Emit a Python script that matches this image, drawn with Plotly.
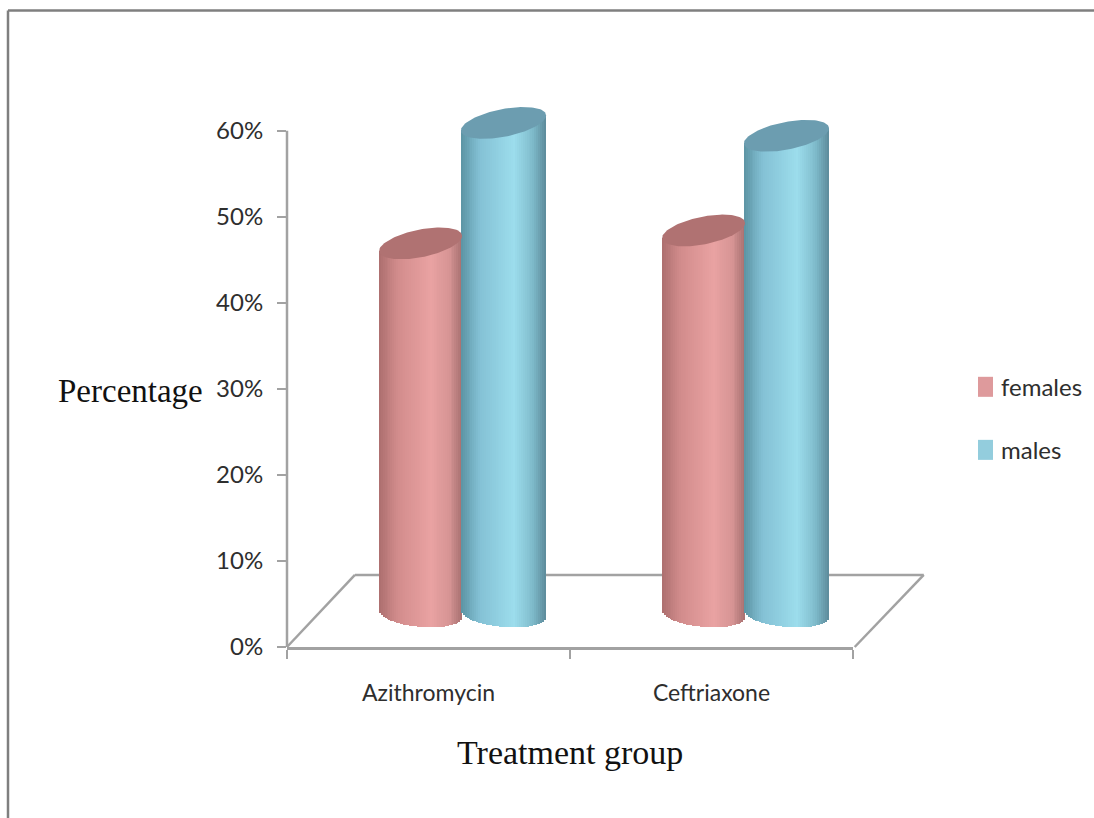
import numpy as np
import plotly.graph_objects as go

# Chart data
groups = ["Azithromycin", "Ceftriaxone"]
females = [43.0, 44.5]
males = [57.0, 55.5]
y_ticks = [0, 10, 20, 30, 40, 50, 60]

# Pseudo-3D layout of the chart, in axis units
Y_MAX, Y_HEADROOM, X_MAX = 60, 66, 2
PX_PER_X, PX_PER_PCT = 283.0, 8.6
FLOOR_DEPTH_X, FLOOR_DEPTH_Y = 0.24, 8.37
BASE_LIFT = 3.9
SLICES = 44

AXIS_GREY = "#A2A2A2"
FRAME_GREY = "#7F7F7F"
TEXT = "#2E2E2E"
SANS = "Lato, Open Sans"
SERIF = "Liberation Serif"

STYLE = {
    "females": dict(offset=0.472, width=0.293, top="#B07272", swatch="#DE9A9C",
                    stops=[(-1, (172, 110, 110)), (-0.55, (210, 140, 140)), (0.25, (233, 162, 162)),
                           (0.7, (214, 148, 148)), (1, (168, 112, 112))]),
    "males": dict(offset=0.765, width=0.301, top="#6C9DB0", swatch="#93CDDD",
                  stops=[(-1, (92, 148, 163)), (-0.55, (132, 193, 213)), (0.25, (156, 221, 236)),
                         (0.7, (126, 186, 202)), (1, (92, 138, 154))]),
}


def shade(t, stops):
    knots = [s[0] for s in stops]
    return [
        "rgb({:.0f},{:.0f},{:.0f})".format(*(np.interp(v, knots, [s[1][c] for s in stops]) for c in range(3)))
        for v in t
    ]


def cylinder(value, center, style):
    """A cylinder built from narrow shaded bars plus a tilted elliptical cap."""
    half = style["width"] / 2
    edges = np.linspace(-1, 1, SLICES + 1)
    t = (edges[:-1] + edges[1:]) / 2
    rim = 13.5 / PX_PER_PCT * np.sqrt(1 - t**2)
    base = BASE_LIFT - rim - 3.5 / PX_PER_PCT * t
    top = BASE_LIFT + value + 7.5 / PX_PER_PCT * t
    sides = go.Bar(
        x=center + t * half, y=top - base, base=base,
        width=np.full(SLICES, 2 * half / SLICES * 1.15),
        marker=dict(color=shade(t, style["stops"]), line_width=0),
        showlegend=False, hoverinfo="skip",
    )
    theta = np.linspace(0, 2 * np.pi, 120)
    cap = go.Scatter(
        x=center + half * np.cos(theta),
        y=BASE_LIFT + value + (7.5 * np.cos(theta) + 14 * np.sin(theta)) / PX_PER_PCT,
        mode="lines", fill="toself", fillcolor=style["top"], line=dict(width=0),
        showlegend=False, hoverinfo="skip",
    )
    return sides, cap


fig = go.Figure()
caps = []
for series, values in (("females", females), ("males", males)):
    style = STYLE[series]
    for i, value in enumerate(values):
        sides, cap = cylinder(value, i + style["offset"], style)
        fig.add_trace(sides)
        caps.append(cap)
fig.add_traces(caps)

# Page geometry: the plot area runs a little above the 60% tick so the tallest cap fits
W, H = 1094, 818
ML, MR, MB = 287, 241, 171
MT = 131 - (Y_HEADROOM - Y_MAX) * PX_PER_PCT
plot_w, plot_h = W - ML - MR, H - MT - MB


def px(x):
    return (x - ML) / plot_w


def py(y):
    return (H - MB - y) / plot_h


# Value axis line and floor of the 3D plot, as fractions of the plot area
fx = FLOOR_DEPTH_X / X_MAX
fy = FLOOR_DEPTH_Y / Y_HEADROOM
axis_line = dict(color=AXIS_GREY, width=2.5)
shapes = [
    dict(type="line", xref="paper", yref="paper", x0=0, y0=0, x1=0, y1=Y_MAX / Y_HEADROOM, line=axis_line, layer="below"),
    dict(type="line", xref="paper", yref="paper", x0=0, y0=0, x1=fx, y1=fy, line=axis_line, layer="below"),
    dict(type="line", xref="paper", yref="paper", x0=fx, y0=fy, x1=1 + fx + 0.005, y1=fy, line=axis_line, layer="below"),
    dict(type="line", xref="paper", yref="paper", x0=1 + fx + 0.005, y0=fy, x1=1.003, y1=0, line=axis_line, layer="below"),
]

# Outer frame: top and left edges only
frame = dict(color=FRAME_GREY, width=2.5)
shapes += [
    dict(type="line", xref="paper", yref="paper", x0=px(8), y0=py(11), x1=px(W), y1=py(11), line=frame),
    dict(type="line", xref="paper", yref="paper", x0=px(8), y0=py(11), x1=px(8), y1=py(H), line=frame),
]

# Axis titles
annotations = [
    dict(text="Percentage", xref="paper", yref="paper", x=px(130), y=py(391),
         xanchor="center", yanchor="middle", showarrow=False,
         font=dict(family=SERIF, size=33, color="#111111")),
    dict(text="Treatment group", xref="paper", yref="paper", x=px(570), y=py(752),
         xanchor="center", yanchor="middle", showarrow=False,
         font=dict(family=SERIF, size=34, color="#111111")),
]

# Key on the right-hand side
for series, center_y in (("females", 387), ("males", 450)):
    shapes.append(dict(type="rect", xref="paper", yref="paper", x0=px(978), x1=px(993),
                       y0=py(center_y + 10), y1=py(center_y - 10),
                       fillcolor=STYLE[series]["swatch"], line_width=0))
    annotations.append(dict(text=series, xref="paper", yref="paper", x=px(999), y=py(center_y),
                            xanchor="left", yanchor="middle", showarrow=False,
                            font=dict(family=SANS, size=24, color=TEXT)))

fig.update_layout(
    width=W, height=H, autosize=False,
    margin=dict(l=ML, r=MR, t=MT, b=MB, autoexpand=False),
    paper_bgcolor="white", plot_bgcolor="rgba(0,0,0,0)",
    barmode="overlay", bargap=0, showlegend=False,
    shapes=shapes, annotations=annotations,
    xaxis=dict(
        range=[0, X_MAX], showgrid=False, zeroline=False,
        showline=True, linecolor=AXIS_GREY, linewidth=2.5,
        tickmode="array", tickvals=[0.5, 1.5], ticktext=groups, ticks="", ticklabelstandoff=24,
        tickfont=dict(family=SANS, size=23, color=TEXT),
        minor=dict(tickmode="array", tickvals=[0, 1, 2], ticks="outside", ticklen=9,
                   tickwidth=2, tickcolor=AXIS_GREY),
    ),
    yaxis=dict(
        range=[0, Y_HEADROOM], showgrid=False, zeroline=False, showline=False,
        tickmode="array", tickvals=y_ticks, ticktext=[f"{v}%" for v in y_ticks],
        ticks="outside", ticklen=9, tickwidth=2, tickcolor=AXIS_GREY, ticklabelstandoff=9,
        tickfont=dict(family=SANS, size=24, color=TEXT),
    ),
)

fig.write_html("out.html")
